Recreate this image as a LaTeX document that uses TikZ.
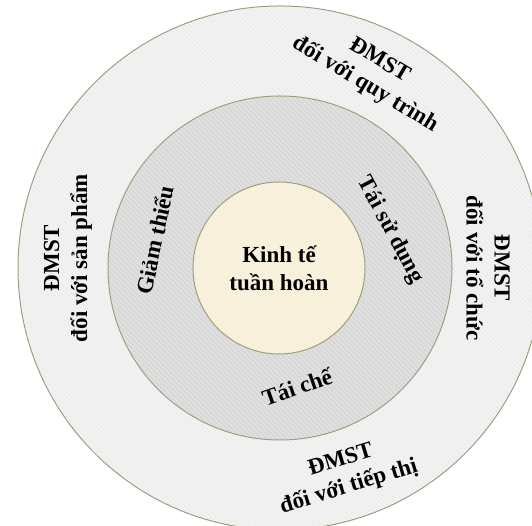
\documentclass[tikz,border=0pt]{standalone}
\usepackage{fontspec}
\setmainfont{Liberation Serif}
\usetikzlibrary{patterns.meta}
\definecolor{ringline}{HTML}{9E9E7E}
\definecolor{outerfill}{HTML}{EEEEEE}
\definecolor{midfill}{HTML}{D8D8D8}
\definecolor{corefill}{HTML}{F7EFD8}
\tikzset{
  ring/.style={circle, draw=ringline, line width=1pt, inner sep=0pt},
  stripes/.style={pattern={Lines[angle=-45,distance=3.5pt,line width=0.9pt]}, pattern color=white, opacity=0.45},
  lbl/.style={align=center, font=\bfseries\fontsize{23}{28}\selectfont, inner sep=0pt}
}
\begin{document}
\begin{tikzpicture}[x=1pt,y=1pt]
\useasboundingbox (0,0) rectangle (532,526);
\clip (0,0) rectangle (532,526);
\fill[white] (0,0) rectangle (532,526);
\coordinate (c) at (280,258);
\node[ring, fill=outerfill, minimum size=524pt] (outer) at (c) {};
\fill[stripes] (c) circle[radius=261.5];
\node[ring, fill=midfill, minimum size=344pt] (mid) at (c) {};
\fill[stripes, opacity=0.35] (c) circle[radius=171.5];
\node[ring, fill=corefill, minimum size=172pt] (core) at (279,258) {};
\fill[stripes, opacity=0.3] (279,258) circle[radius=85.5];
\node[lbl] (tcore) at (279,258) {Kinh tế\\tuần hoàn};
\node[lbl, rotate=78] (tgiam) at (155,286) {Giảm thiểu};
\node[lbl, rotate=-62] (ttsd) at (390,296) {Tái sử dụng};
\node[lbl, rotate=19] (tche) at (297,139) {Tái chế};
\node[lbl, rotate=-31] (tqt) at (372,453) {ĐMST\\đối với quy trình};
\node[lbl, rotate=90] (tsp) at (68,268) {ĐMST\\đối với sản phẩm};
\node[lbl, rotate=-90] (ttc) at (488,258) {ĐMST\\đối với tổ chức};
\node[lbl, rotate=17] (ttt) at (345,52) {ĐMST\\đối với tiếp thị};
\end{tikzpicture}
\end{document}
